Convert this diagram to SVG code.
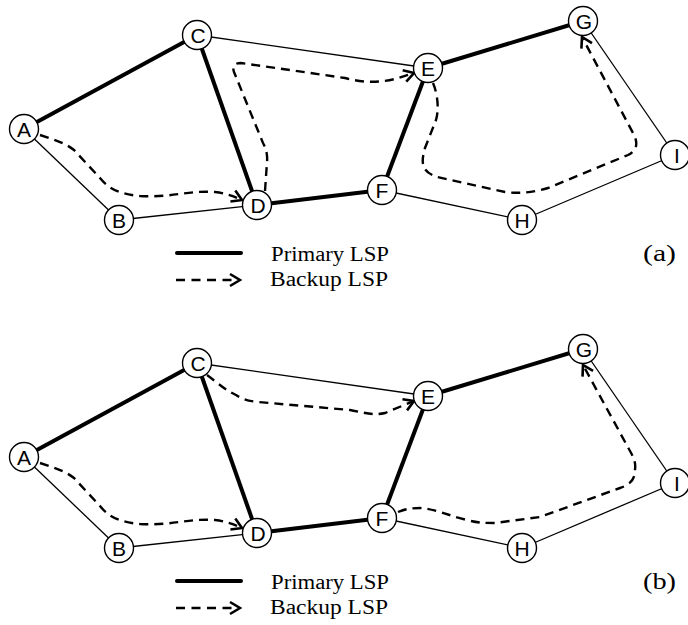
<svg xmlns="http://www.w3.org/2000/svg" width="688" height="625" viewBox="0 0 688 625">
<style>
.thin{stroke:#000;stroke-width:1.3;fill:none}
.thick{stroke:#000;stroke-width:4;fill:none}
.dash{stroke:#000;stroke-width:2.4;fill:none;stroke-dasharray:9,6}
.node circle{fill:#fff;stroke:#000;stroke-width:1.4}
.node text{text-anchor:middle;fill:#000}
</style>
<defs>
<marker id="arr" markerUnits="userSpaceOnUse" viewBox="-13 -8 15 16" refX="0" refY="0" markerWidth="15" markerHeight="16" orient="auto">
<path d="M-10,-6 L0,0 L-10,6" fill="none" stroke="#000" stroke-width="2.6"/>
</marker>
</defs>
<rect width="688" height="625" fill="#fff"/>

<!-- Diagram (a) -->
<g id="diagram-a">
<g id="connectors-a">
<line class="thin" x1="197" y1="35" x2="428" y2="68"/>
<line class="thin" x1="24" y1="129" x2="119" y2="220"/>
<line class="thin" x1="119" y1="220" x2="257" y2="205"/>
<line class="thin" x1="382" y1="190" x2="522" y2="220"/>
<line class="thin" x1="522" y1="220" x2="675" y2="155"/>
<line class="thin" x1="675" y1="155" x2="583" y2="21"/>
<line class="thick" x1="24" y1="129" x2="197" y2="35"/>
<line class="thick" x1="197" y1="35" x2="257" y2="205"/>
<line class="thick" x1="257" y1="205" x2="382" y2="190"/>
<line class="thick" x1="382" y1="190" x2="428" y2="68"/>
<line class="thick" x1="428" y1="68" x2="583" y2="21"/>
<path class="dash" marker-end="url(#arr)" d="M40,135 C55,140 65,143 74,150 L100,178 C108,188 118,194 140,196 C170,198 190,190 215,192 C225,193 233,196 242,200"/>
<path class="dash" marker-end="url(#arr)" d="M265,191 L267,162 Q268,152 263,143 L234,72 Q231,63 241,63 L345,78 Q370,85 395,79 L414,73"/>
<path class="dash" marker-end="url(#arr)" d="M433,83 C438,95 439,110 436,120 L425,148 C420,165 423,172 437,177 L505,192 C520,194 535,192 548,188 L628,155 C638,150 638,142 633,133 L582,37"/>
</g>
<g font-family="Liberation Sans, Arial, sans-serif" font-size="21">
<g id="node-a-A" class="node"><circle cx="24" cy="129" r="14.5"/><text x="24" y="136.5">A</text></g>
<g id="node-a-B" class="node"><circle cx="119" cy="220" r="14.5"/><text x="119" y="227.5">B</text></g>
<g id="node-a-C" class="node"><circle cx="197" cy="35" r="14.5"/><text x="198" y="42.5">C</text></g>
<g id="node-a-D" class="node"><circle cx="257" cy="205" r="14.5"/><text x="258" y="212.5">D</text></g>
<g id="node-a-E" class="node"><circle cx="428" cy="68" r="14.5"/><text x="428" y="75.5">E</text></g>
<g id="node-a-F" class="node"><circle cx="382" cy="190" r="14.5"/><text x="382" y="197.5">F</text></g>
<g id="node-a-G" class="node"><circle cx="583" cy="21" r="14.5"/><text x="584" y="28.5">G</text></g>
<g id="node-a-H" class="node"><circle cx="522" cy="220" r="14.5"/><text x="522" y="227.5">H</text></g>
<g id="node-a-I" class="node"><circle cx="675" cy="155" r="14.5"/><text x="677" y="162.5">I</text></g>
</g>
<g id="legend-a" font-family="Liberation Serif, Times New Roman, serif">
<line x1="177" y1="253" x2="241" y2="253" stroke="#000" stroke-width="4" stroke-linecap="round"/>
<line x1="176" y1="280" x2="232" y2="280" stroke="#000" stroke-width="2.4" stroke-dasharray="9,6.5"/>
<line x1="230" y1="280" x2="240" y2="280" stroke="none" marker-end="url(#arr)"/>
<text font-size="20" x="271" y="261" textLength="118" lengthAdjust="spacingAndGlyphs">Primary LSP</text>
<text font-size="20" x="270" y="286" textLength="118" lengthAdjust="spacingAndGlyphs">Backup LSP</text>
<text font-size="24" x="643" y="261" textLength="33" lengthAdjust="spacingAndGlyphs">(a)</text>
</g>
</g>

<!-- Diagram (b) -->
<g id="diagram-b" transform="translate(0,328)">
<g id="connectors-b">
<line class="thin" x1="197" y1="35" x2="428" y2="68"/>
<line class="thin" x1="24" y1="129" x2="119" y2="220"/>
<line class="thin" x1="119" y1="220" x2="257" y2="205"/>
<line class="thin" x1="382" y1="190" x2="522" y2="220"/>
<line class="thin" x1="522" y1="220" x2="675" y2="155"/>
<line class="thin" x1="675" y1="155" x2="583" y2="21"/>
<line class="thick" x1="24" y1="129" x2="197" y2="35"/>
<line class="thick" x1="197" y1="35" x2="257" y2="205"/>
<line class="thick" x1="257" y1="205" x2="382" y2="190"/>
<line class="thick" x1="382" y1="190" x2="428" y2="68"/>
<line class="thick" x1="428" y1="68" x2="583" y2="21"/>
<path class="dash" marker-end="url(#arr)" d="M40,135 C55,140 65,143 74,150 L100,178 C108,188 118,194 140,196 C170,198 190,190 215,192 C225,193 233,196 242,200"/>
<path class="dash" marker-end="url(#arr)" d="M207,47 C218,55 225,62 236,67 C242,71 248,73 258,74 L350,82 C362,84 372,88 385,85 L414,73"/>
<path class="dash" marker-end="url(#arr)" d="M398,184 C405,181 412,180 420,180 C435,181 450,188 467,192 C478,195 485,195 495,195 L540,189 L620,160 C632,156 635,150 635,142 C636,135 634,130 630,123 L583,37"/>
</g>
<g font-family="Liberation Sans, Arial, sans-serif" font-size="21">
<g id="node-b-A" class="node"><circle cx="24" cy="129" r="14.5"/><text x="24" y="136.5">A</text></g>
<g id="node-b-B" class="node"><circle cx="119" cy="220" r="14.5"/><text x="119" y="227.5">B</text></g>
<g id="node-b-C" class="node"><circle cx="197" cy="35" r="14.5"/><text x="198" y="42.5">C</text></g>
<g id="node-b-D" class="node"><circle cx="257" cy="205" r="14.5"/><text x="258" y="212.5">D</text></g>
<g id="node-b-E" class="node"><circle cx="428" cy="68" r="14.5"/><text x="428" y="75.5">E</text></g>
<g id="node-b-F" class="node"><circle cx="382" cy="190" r="14.5"/><text x="382" y="197.5">F</text></g>
<g id="node-b-G" class="node"><circle cx="583" cy="21" r="14.5"/><text x="584" y="28.5">G</text></g>
<g id="node-b-H" class="node"><circle cx="522" cy="220" r="14.5"/><text x="522" y="227.5">H</text></g>
<g id="node-b-I" class="node"><circle cx="675" cy="155" r="14.5"/><text x="677" y="162.5">I</text></g>
</g>
<g id="legend-b" font-family="Liberation Serif, Times New Roman, serif">
<line x1="177" y1="253" x2="241" y2="253" stroke="#000" stroke-width="4" stroke-linecap="round"/>
<line x1="176" y1="280" x2="232" y2="280" stroke="#000" stroke-width="2.4" stroke-dasharray="9,6.5"/>
<line x1="230" y1="280" x2="240" y2="280" stroke="none" marker-end="url(#arr)"/>
<text font-size="20" x="271" y="261" textLength="118" lengthAdjust="spacingAndGlyphs">Primary LSP</text>
<text font-size="20" x="270" y="286" textLength="118" lengthAdjust="spacingAndGlyphs">Backup LSP</text>
<text font-size="24" x="643" y="261" textLength="33" lengthAdjust="spacingAndGlyphs">(b)</text>
</g>
</g>
</svg>
